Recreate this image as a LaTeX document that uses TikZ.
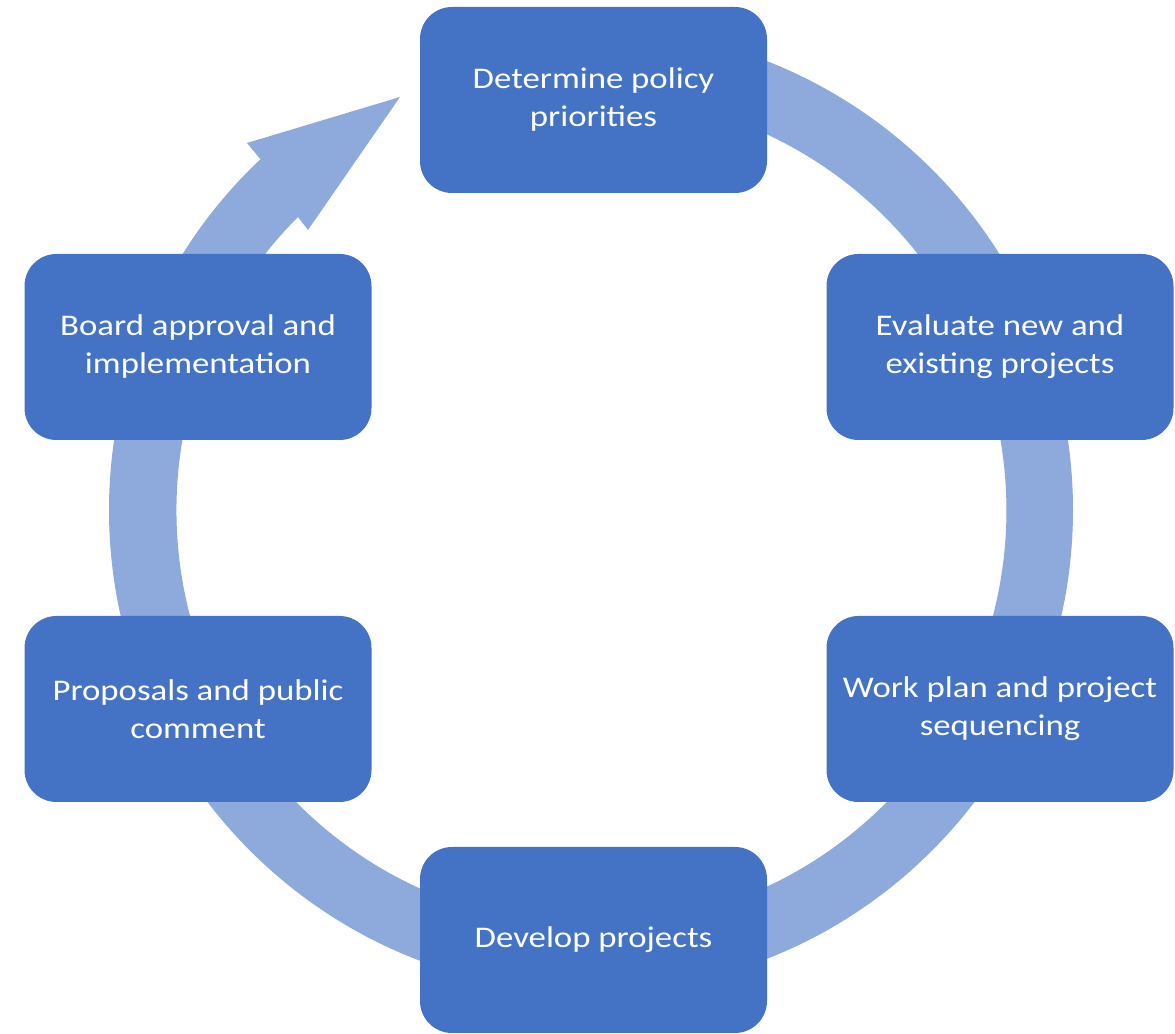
\documentclass[tikz,border=0pt]{standalone}
\usepackage{fontspec}
\setmainfont{Carlito}[FakeStretch=1.16]
\definecolor{boxblue}{HTML}{4472C4}
\definecolor{ringblue}{HTML}{8EA9DB}
\begin{document}
\begin{tikzpicture}[x=0.5pt,y=0.5pt,
  stepbox/.style={rectangle, rounded corners=16pt, fill=boxblue, text=white,
    minimum width=173.5pt, minimum height=93pt, align=center,
    font=\fontsize{15pt}{19pt}\selectfont, inner sep=0pt}]
\useasboundingbox (0,0) rectangle (1175,1034);
% cycle arrow (ring) centred at (591,524)
\fill[ringblue] (591,524) ++(90:482) arc[start angle=90, end angle=-226.7, radius=482]
  -- (247,891) -- (400,937) -- (308,804) -- (298,817)
  arc[start angle=-225, end angle=90, radius=415] -- cycle;
% steps
\node[stepbox] (top) at (593.5,934) {Determine policy\\priorities};
\node[stepbox] (ru)  at (1000,687) {Evaluate new and\\existing projects};
\node[stepbox] (rl)  at (1000,325) {Work plan and project\\sequencing};
\node[stepbox] (bot) at (593.5,94) {Develop projects};
\node[stepbox] (ll)  at (198,325) {Proposals and public\\comment};
\node[stepbox] (lu)  at (198,687) {Board approval and\\implementation};
\end{tikzpicture}
\end{document}
